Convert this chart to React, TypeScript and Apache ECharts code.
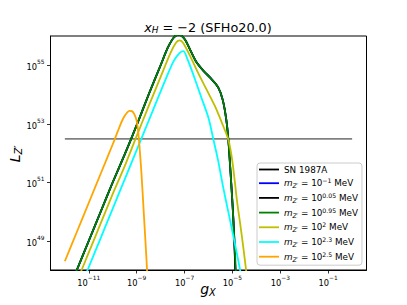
import React, { useEffect, useRef } from "react";
import * as echarts from "echarts";

// log10(g_X) , log10(L_Z')
const snLine: [number, number][] = [[-12, 52.48], [0, 52.48]];
const mBlue: [number, number][] = [
  [-11.8, 47.4], [-11.5, 48.0], [-11, 49.0], [-10.5, 50.0], [-10, 51.0], [-9.5, 51.95], [-9.0, 52.95],
  [-8.5, 54.0], [-8.0, 55.0], [-7.7, 55.6], [-7.45, 55.95], [-7.25, 56.05], [-7.0, 55.9], [-6.75, 55.5],
  [-6.5, 55.1], [-6.2, 54.8], [-5.9, 54.55], [-5.6, 54.25], [-5.4, 53.8], [-5.25, 53.1], [-5.17, 52.45],
  [-5.1, 51.6], [-5.0, 50.3], [-4.93, 49.2], [-4.88, 48.0], [-4.84, 47.0],
];
const mBlack: [number, number][] = [
  [-11.8, 47.4], [-11.5, 48.0], [-11, 49.0], [-10.5, 50.0], [-10, 51.0], [-9.5, 51.95], [-9.0, 52.95],
  [-8.5, 54.0], [-8.0, 55.0], [-7.7, 55.6], [-7.45, 55.95], [-7.25, 56.05], [-7.0, 55.9], [-6.75, 55.5],
  [-6.5, 55.1], [-6.2, 54.8], [-5.9, 54.55], [-5.6, 54.25], [-5.4, 53.8], [-5.25, 53.1], [-5.17, 52.45],
  [-5.1, 51.6], [-5.0, 50.3], [-4.93, 49.2], [-4.88, 48.0], [-4.84, 47.0],
];
const mGreen: [number, number][] = [
  [-11.8, 47.4], [-11.5, 48.0], [-11, 49.0], [-10.5, 50.0], [-10, 51.0], [-9.5, 51.95], [-9.0, 52.95],
  [-8.5, 54.0], [-8.0, 55.0], [-7.7, 55.6], [-7.45, 55.95], [-7.25, 56.05], [-7.0, 55.9], [-6.75, 55.5],
  [-6.5, 55.1], [-6.2, 54.8], [-5.9, 54.55], [-5.6, 54.25], [-5.4, 53.8], [-5.25, 53.1], [-5.17, 52.45],
  [-5.1, 51.6], [-5.0, 50.3], [-4.93, 49.2], [-4.86, 48.0], [-4.82, 47.2],
];
const mYellow: [number, number][] = [
  [-11.6, 47.4], [-11.3, 48.0], [-11, 48.6], [-10.5, 49.6], [-10, 50.6], [-9.5, 51.55], [-9.04, 52.5],
  [-8.5, 53.6], [-8.0, 54.6], [-7.6, 55.4], [-7.35, 55.78], [-7.2, 55.85], [-7.05, 55.75], [-6.7, 55.2],
  [-6.43, 54.73], [-6.1, 54.2], [-5.73, 53.6], [-5.4, 52.95], [-5.17, 52.45], [-5.0, 51.7], [-4.8, 50.3],
  [-4.68, 49.6], [-4.55, 48.8], [-4.43, 48.0], [-4.35, 47.4],
];
const mCyan: [number, number][] = [
  [-11.3, 47.5], [-11.05, 48.0], [-10.5, 49.1], [-10, 50.1], [-9.5, 51.1], [-8.8, 52.5], [-8.3, 53.5],
  [-7.8, 54.5], [-7.45, 55.15], [-7.2, 55.42], [-7.05, 55.48], [-6.9, 55.25], [-6.6, 54.6], [-6.3, 53.9],
  [-6.0, 53.2], [-5.8, 52.48], [-5.6, 51.75], [-5.38, 50.8], [-5.15, 49.9], [-4.96, 49.15], [-4.8, 48.5],
  [-4.68, 48.0], [-4.6, 47.6],
];
const mOrange: [number, number][] = [
  [-12, 48.3], [-11.5, 49.3], [-11, 50.3], [-10.5, 51.3], [-10, 52.3], [-9.8, 52.72], [-9.7, 52.93],
  [-9.6, 53.12], [-9.5, 53.27], [-9.4, 53.38], [-9.3, 53.44], [-9.2, 53.43], [-9.1, 53.33], [-9.0, 53.1],
  [-8.95, 52.82], [-8.9, 52.4], [-8.8, 51.3], [-8.7, 49.9], [-8.6, 48.5], [-8.55, 47.7],
];

const xTicks = [-11, -9, -7, -5, -3, -1];
const yTicks = [49, 51, 53, 55];

const seriesNames = ["SN 1987A", "m1", "m2", "m3", "m4", "m5", "m6"];
const massExps = ["", "−1", "0.05", "0.95", "2", "2.3", "2.5"];
const colors = ["#808080", "#0000ff", "#000000", "#008000", "#bfbf00", "#00ffff", "#ffa500"];
const seriesData = [snLine, mBlue, mBlack, mGreen, mYellow, mCyan, mOrange];

const FONT = "DejaVu Sans";
const fmtExp = (v: number) => String(v).replace("-", "−");

export default function App() {
  const ref = useRef<HTMLDivElement>(null);
  useEffect(() => {
    if (!ref.current) return;
    const chart = echarts.init(ref.current, undefined, { renderer: "svg" });
    const tickRich = {
      b: { fontFamily: FONT, fontSize: 8.3, color: "#000", lineHeight: 12, verticalAlign: "bottom" },
      s: { fontFamily: FONT, fontSize: 5.9, color: "#000", lineHeight: 7, verticalAlign: "top" },
    };
    const legendRich = {
      t: { fontFamily: FONT, fontSize: 8.8, color: "#000", lineHeight: 11 },
      i: { fontFamily: FONT, fontSize: 8.8, fontStyle: "italic", color: "#000", lineHeight: 11 },
      sub: { fontFamily: FONT, fontSize: 6.2, fontStyle: "italic", color: "#000", lineHeight: 6, verticalAlign: "bottom" },
      sup: { fontFamily: FONT, fontSize: 6.2, color: "#000", lineHeight: 6, verticalAlign: "top" },
    };
    const series: any[] = seriesNames.map((name, k) => ({
      name,
      type: "line",
      data: seriesData[k],
      symbol: "none",
      showSymbol: false,
      smooth: k === 0 ? false : 0.3,
      clip: true,
      lineStyle: { color: colors[k], width: 1.8 },
      itemStyle: { color: colors[k] },
      z: 2 + k,
    }));
    chart.setOption({
      animation: false,
      grid: { left: 50.5, right: 40.5, top: 36, bottom: 35, show: true, borderColor: "#000", borderWidth: 1, backgroundColor: "transparent" },
      xAxis: {
        type: "value",
        min: -12.6,
        max: 0.6,
        axisLine: { show: true, onZero: false, lineStyle: { color: "#000", width: 1 } },
        splitLine: { show: false },
        axisTick: { show: true, customValues: xTicks, length: 3.5, inside: false, lineStyle: { color: "#000", width: 0.8 } },
        axisLabel: {
          customValues: xTicks,
          margin: 5,
          formatter: (v: number) => `{b|10}{s|${fmtExp(v)}}`,
          rich: tickRich,
        },
      },
      yAxis: {
        type: "value",
        min: 48,
        max: 56,
        axisLine: { show: true, onZero: false, lineStyle: { color: "#000", width: 1 } },
        splitLine: { show: false },
        axisTick: { show: true, customValues: yTicks, length: 3.5, inside: false, lineStyle: { color: "#000", width: 0.8 } },
        axisLabel: {
          customValues: yTicks,
          margin: 6,
          formatter: (v: number) => `{b|10}{s|${fmtExp(v)}}`,
          rich: tickRich,
        },
      },
      legend: {
        orient: "vertical",
        left: 257,
        top: 163,
        padding: [2, 4, 3, 2],
        itemGap: 3.7,
        itemWidth: 20,
        itemHeight: 1.8,
        backgroundColor: "rgba(255,255,255,0.8)",
        borderColor: "#cccccc",
        borderWidth: 1,
        borderRadius: 3,
        data: seriesNames.map((name, k) => ({
          name,
          icon: "rect",
          itemStyle: { color: k === 0 ? "#000" : colors[k] },
        })),
        formatter: (name: string) => {
          const k = seriesNames.indexOf(name);
          if (k === 0) return "{t|SN 1987A}";
          return `{i|m}{sub|Z′}{t| = 10}{sup|${massExps[k]}}{t| MeV}`;
        },
        textStyle: { rich: legendRich, fontFamily: FONT, fontSize: 8.8 },
      },
      graphic: [
        {
          type: "text",
          x: 208,
          y: 27,
          style: {
            text: "{i|x}{sub|H}{t| = −2 (SFHo20.0)}",
            align: "center",
            verticalAlign: "middle",
            rich: {
              t: { fontFamily: FONT, fontSize: 12.8, color: "#000", lineHeight: 15 },
              i: { fontFamily: FONT, fontSize: 12.8, fontStyle: "italic", color: "#000", lineHeight: 15 },
              sub: { fontFamily: FONT, fontSize: 8.9, fontStyle: "italic", color: "#000", lineHeight: 9, verticalAlign: "bottom" },
            },
          },
        },
        {
          type: "text",
          x: 208,
          y: 289,
          style: {
            text: "{i|g}{sub|X}",
            align: "center",
            verticalAlign: "middle",
            rich: {
              i: { fontFamily: FONT, fontSize: 14, fontStyle: "italic", color: "#000", lineHeight: 16 },
              sub: { fontFamily: FONT, fontSize: 9.8, fontStyle: "italic", color: "#000", lineHeight: 10, verticalAlign: "bottom" },
            },
          },
        },
        {
          type: "text",
          x: 15,
          y: 154,
          rotation: Math.PI / 2,
          style: {
            text: "{i|L}{sub|Z′}",
            align: "center",
            verticalAlign: "middle",
            rich: {
              i: { fontFamily: FONT, fontSize: 14, fontStyle: "italic", color: "#000", lineHeight: 16 },
              sub: { fontFamily: FONT, fontSize: 9.8, fontStyle: "italic", color: "#000", lineHeight: 10, verticalAlign: "bottom" },
            },
          },
        },
      ],
      series,
    });
    return () => chart.dispose();
  }, []);
  return <div ref={ref} style={{ width: 407, height: 305, position: "absolute", left: 0, top: 0 }} />;
}
